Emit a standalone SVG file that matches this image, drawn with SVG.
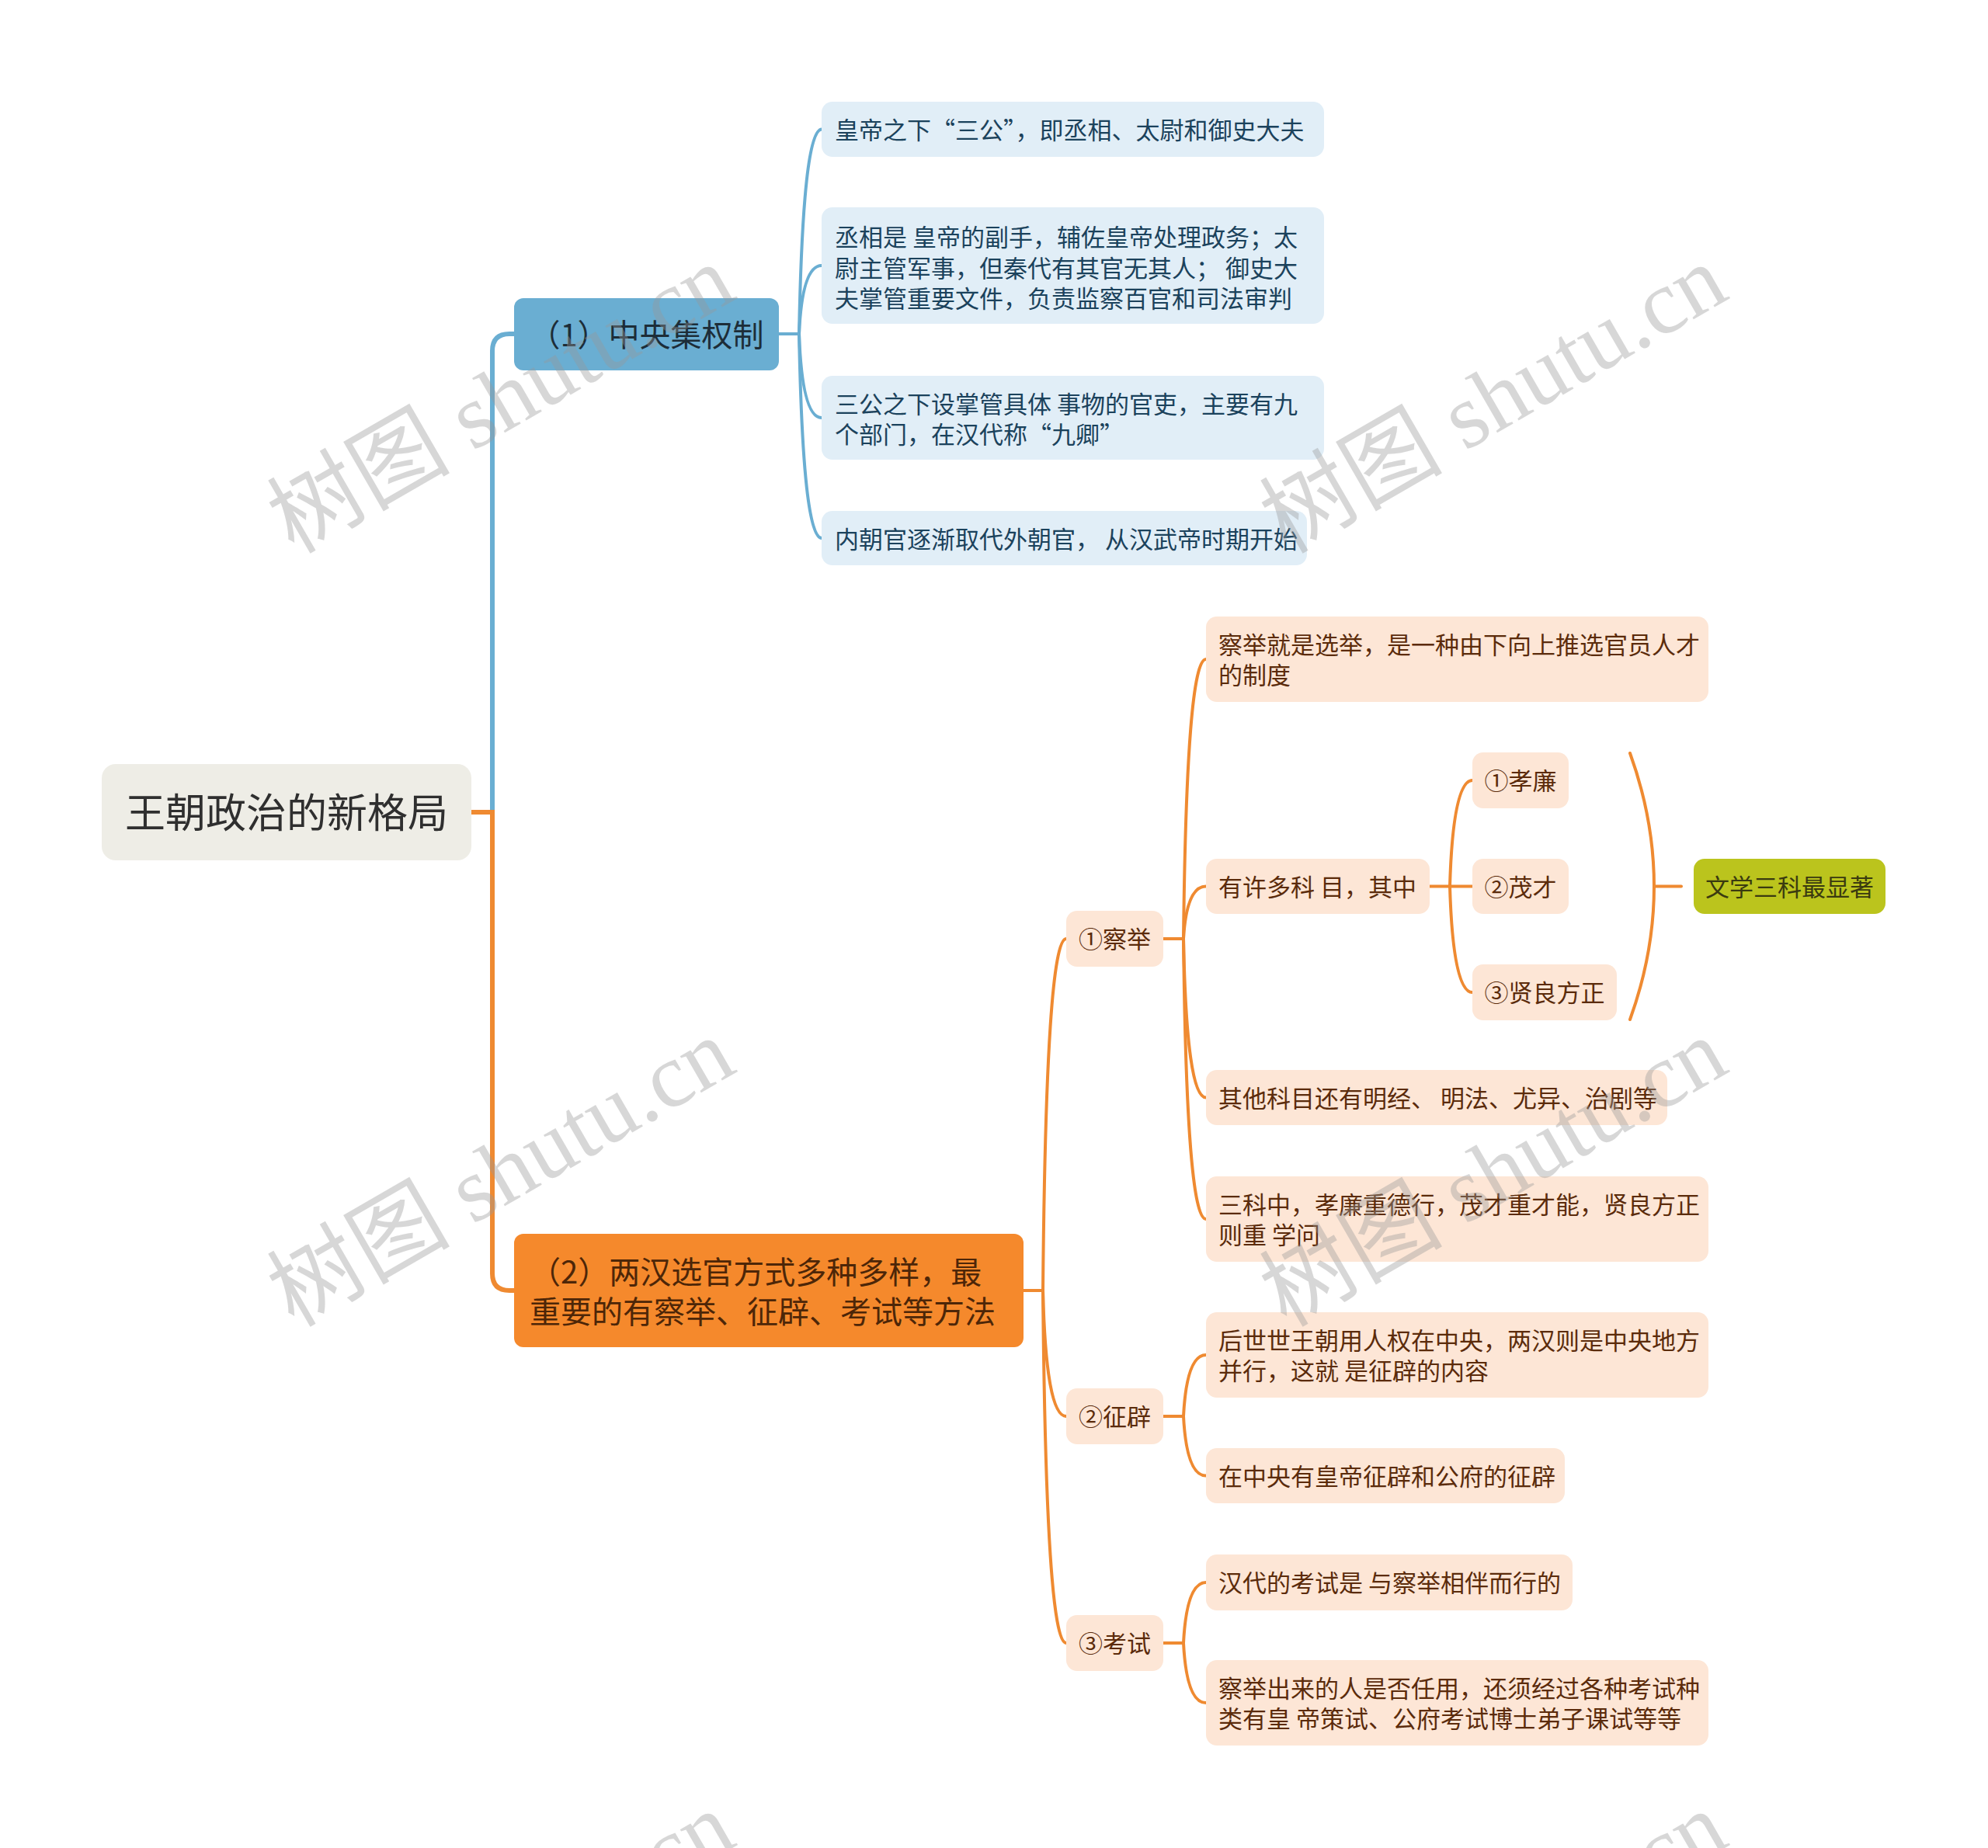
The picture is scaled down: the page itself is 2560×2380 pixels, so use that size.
<svg xmlns="http://www.w3.org/2000/svg" width="2560" height="2380" viewBox="0 0 2560 2380">
<style>
text{font-family:"Noto Sans CJK SC","Noto Sans",sans-serif}
.blue{fill:none;stroke:#6aaed2;stroke-width:4;stroke-linecap:round}
.org{fill:none;stroke:#ef8a31;stroke-width:4;stroke-linecap:round}
.thick{stroke-width:6;stroke-linecap:butt}
.bleaf{fill:#e1eef7}
.oleaf{fill:#fde6d6}
.bt{font-size:31px;fill:#1b425c}
.ot{font-size:31px;fill:#5b2b0b}
.fw{font-feature-settings:"fwid" 1}
.wm{font-family:"Liberation Serif","Noto Sans CJK SC",serif;font-size:118px;fill:#999;opacity:0.38}
</style>
<rect width="2560" height="2380" fill="#ffffff"/>
<g id="connectors">
<path class="org thick" d="M607 1046 L634 1046"/>
<path class="blue thick" d="M634 1049 L634 452 Q634 430 656 430 L662 430"/>
<path class="org thick" d="M634 1043 L634 1640 Q634 1662 656 1662 L662 1662"/>
<path class="blue" d="M1003 430 L1029 430"/>
<path class="blue" d="M1029 430 Q1034 166.5 1058 166.5"/>
<path class="blue" d="M1029 430 Q1033 342 1058 342"/>
<path class="blue" d="M1029 430 Q1033 538 1058 538"/>
<path class="blue" d="M1029 430 Q1034 693 1058 693"/>
<path class="org" d="M1318 1662 L1343 1662"/>
<path class="org" d="M1343 1662 Q1347 1209 1373 1209"/>
<path class="org" d="M1343 1662 Q1347 1824 1373 1824"/>
<path class="org" d="M1343 1662 Q1347 2116 1373 2116"/>
<path class="org" d="M1498 1209 L1524 1209"/>
<path class="org" d="M1524 1209 Q1528 849 1553 849"/>
<path class="org" d="M1524 1209 Q1528 1141.5 1553 1141.5"/>
<path class="org" d="M1524 1209 Q1528 1413.5 1553 1413.5"/>
<path class="org" d="M1524 1209 Q1528 1570 1553 1570"/>
<path class="org" d="M1841 1141.5 L1896 1141.5"/>
<path class="org" d="M1867 1141.5 Q1871 1005 1896 1005"/>
<path class="org" d="M1867 1141.5 Q1871 1278 1896 1278"/>
<path class="org" d="M2099 970 Q2161 1141.5 2099 1313"/>
<path class="org" d="M2130 1141.5 L2165 1141.5"/>
<path class="org" d="M1498 1824 L1524 1824"/>
<path class="org" d="M1524 1824 Q1528 1745 1553 1745"/>
<path class="org" d="M1524 1824 Q1528 1900.5 1553 1900.5"/>
<path class="org" d="M1498 2116 L1524 2116"/>
<path class="org" d="M1524 2116 Q1528 2038 1553 2038"/>
<path class="org" d="M1524 2116 Q1528 2193 1553 2193"/>
</g>
<g id="root">
<rect x="131" y="984" width="476" height="124" rx="18" fill="#eeede6"/>
<text x="369" y="1066" font-size="52" fill="#2f2f2f" text-anchor="middle">王朝政治的新格局</text>
</g>
<g id="n1">
<rect x="662" y="384" width="341" height="93" rx="12" fill="#6aaed2"/>
<text x="832.5" y="445.5" font-size="40" fill="#1d2d38" text-anchor="middle">（1）中央集权制</text>
</g>
<g id="n1a">
<rect class="bleaf" x="1058" y="131" width="647" height="71" rx="14"/>
<text class="bt fw" x="1075" y="178.5">皇帝之下“三公”，即丞相、太尉和御史大夫</text>
</g>
<g id="n1b">
<rect class="bleaf" x="1058" y="267" width="647" height="150" rx="14"/>
<text class="bt" x="1075" y="317">丞相是 皇帝的副手，辅佐皇帝处理政务；太</text>
<text class="bt" x="1075" y="356.5">尉主管军事，但秦代有其官无其人； 御史大</text>
<text class="bt" x="1075" y="396">夫掌管重要文件，负责监察百官和司法审判</text>
</g>
<g id="n1c">
<rect class="bleaf" x="1058" y="484" width="647" height="108" rx="14"/>
<text class="bt" x="1075" y="532">三公之下设掌管具体 事物的官吏，主要有九</text>
<text class="bt fw" x="1075" y="571">个部门，在汉代称“九卿”</text>
</g>
<g id="n1d">
<rect class="bleaf" x="1058" y="658" width="625" height="70" rx="14"/>
<text class="bt" x="1075" y="706">内朝官逐渐取代外朝官， 从汉武帝时期开始</text>
</g>
<g id="n2">
<rect x="662" y="1589" width="656" height="146" rx="12" fill="#f5892c"/>
<text x="682" y="1653" font-size="40" fill="#4d2608">（2）两汉选官方式多种多样，最</text>
<text x="682" y="1704" font-size="40" fill="#4d2608">重要的有察举、征辟、考试等方法</text>
</g>
<g id="cj">
<rect class="oleaf" x="1373" y="1173" width="125" height="72" rx="14"/>
<text class="ot" x="1435.5" y="1221" text-anchor="middle">①察举</text>
</g>
<g id="cjA">
<rect class="oleaf" x="1553" y="794" width="647" height="110" rx="14"/>
<text class="ot" x="1569" y="841.5">察举就是选举，是一种由下向上推选官员人才</text>
<text class="ot" x="1569" y="880.5">的制度</text>
</g>
<g id="cjB">
<rect class="oleaf" x="1553" y="1106" width="288" height="71" rx="14"/>
<text class="ot" x="1569" y="1153.5">有许多科 目，其中</text>
</g>
<g id="xl">
<rect class="oleaf" x="1896" y="969" width="124" height="72" rx="14"/>
<text class="ot" x="1958" y="1017" text-anchor="middle">①孝廉</text>
</g>
<g id="mc">
<rect class="oleaf" x="1896" y="1106" width="124" height="71" rx="14"/>
<text class="ot" x="1958" y="1153.5" text-anchor="middle">②茂才</text>
</g>
<g id="xlfz">
<rect class="oleaf" x="1896" y="1242" width="186" height="72" rx="14"/>
<text class="ot" x="1989" y="1290" text-anchor="middle">③贤良方正</text>
</g>
<g id="summary">
<rect x="2181" y="1106" width="247" height="71" rx="14" fill="#bbc41d"/>
<text x="2304.5" y="1153.5" font-size="31" fill="#3a3a10" text-anchor="middle">文学三科最显著</text>
</g>
<g id="cjC">
<rect class="oleaf" x="1553" y="1378" width="594" height="71" rx="14"/>
<text class="ot" x="1569" y="1425.5">其他科目还有明经、 明法、尤异、治剧等</text>
</g>
<g id="cjD">
<rect class="oleaf" x="1553" y="1515" width="647" height="110" rx="14"/>
<text class="ot" x="1569" y="1562.5">三科中，孝廉重德行，茂才重才能，贤良方正</text>
<text class="ot" x="1569" y="1601.5">则重 学问</text>
</g>
<g id="zp">
<rect class="oleaf" x="1373" y="1788" width="125" height="72" rx="14"/>
<text class="ot" x="1435.5" y="1836" text-anchor="middle">②征辟</text>
</g>
<g id="zpA">
<rect class="oleaf" x="1553" y="1690" width="647" height="110" rx="14"/>
<text class="ot" x="1569" y="1737.5">后世世王朝用人权在中央，两汉则是中央地方</text>
<text class="ot" x="1569" y="1776.5">并行，这就 是征辟的内容</text>
</g>
<g id="zpB">
<rect class="oleaf" x="1553" y="1865" width="462" height="71" rx="14"/>
<text class="ot" x="1569" y="1912.5">在中央有皇帝征辟和公府的征辟</text>
</g>
<g id="ks">
<rect class="oleaf" x="1373" y="2080" width="125" height="72" rx="14"/>
<text class="ot" x="1435.5" y="2128" text-anchor="middle">③考试</text>
</g>
<g id="ksA">
<rect class="oleaf" x="1553" y="2002" width="472" height="72" rx="14"/>
<text class="ot" x="1569" y="2050">汉代的考试是 与察举相伴而行的</text>
</g>
<g id="ksB">
<rect class="oleaf" x="1553" y="2138" width="647" height="110" rx="14"/>
<text class="ot" x="1569" y="2185.5">察举出来的人是否任用，还须经过各种考试种</text>
<text class="ot" x="1569" y="2224.5">类有皇 帝策试、公府考试博士弟子课试等等</text>
</g>
<g id="watermark">
<text class="wm" text-anchor="middle" transform="translate(645 514) rotate(-30)" y="40">树图 shutu.cn</text>
<text class="wm" text-anchor="middle" transform="translate(1923 514) rotate(-30)" y="40">树图 shutu.cn</text>
<text class="wm" text-anchor="middle" transform="translate(645 1510) rotate(-30)" y="40">树图 shutu.cn</text>
<text class="wm" text-anchor="middle" transform="translate(1923 1510) rotate(-30)" y="40">树图 shutu.cn</text>
<text class="wm" text-anchor="middle" transform="translate(645 2506) rotate(-30)" y="40">树图 shutu.cn</text>
<text class="wm" text-anchor="middle" transform="translate(1923 2506) rotate(-30)" y="40">树图 shutu.cn</text>
</g>
</svg>
